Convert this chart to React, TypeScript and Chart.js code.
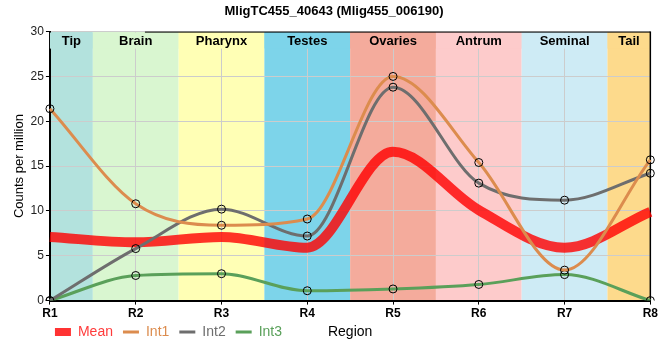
import React, { useEffect, useRef } from 'react';
import { Chart, registerables } from 'chart.js';

Chart.register(...registerables);

const chartTitle = 'MligTC455_40643 (Mlig455_006190)';
const categories = ['R1', 'R2', 'R3', 'R4', 'R5', 'R6', 'R7', 'R8'];
const regionNames = ['Tip', 'Brain', 'Pharynx', 'Testes', 'Ovaries', 'Antrum', 'Seminal', 'Tail'];
const regionColors = ['#b3e2dd', '#d9f6d0', '#ffffb5', '#7dd4ea', '#f4ab9c', '#fdcbcb', '#ceebf5', '#fdda8c'];
const meanValues = [7.1, 6.5, 7.1, 5.9, 16.6, 10.1, 5.9, 9.9];
const int1Values = [21.4, 10.8, 8.4, 9.1, 25.0, 15.4, 3.4, 15.7];
const int2Values = [0, 5.8, 10.2, 7.2, 23.8, 13.1, 11.2, 14.2];
const int3Values = [0, 2.8, 3.0, 1.1, 1.3, 1.8, 2.9, 0];
const seriesNames = ['Mean', 'Int1', 'Int2', 'Int3'];
const seriesColors = ['rgba(255,0,0,0.8)', '#dc8c4e', '#6e6e6e', '#5aa05a'];
const legendTextColors = ['#ff3b3b', '#dc8c4e', '#6e6e6e', '#5aa05a'];
const xAxisTitle = 'Region';
const yAxisTitle = 'Counts per million';

const FONT = "'Liberation Sans', Arial, sans-serif";
const LEGEND_LIFT = 8;
const LEGEND_SHIFT_LEFT = 5;

const bandsPlugin = {
  id: 'bands',
  afterLayout(chart: any) {
    const lg = chart.legend;
    if (lg) {
      lg.top -= LEGEND_LIFT;
      lg.bottom -= LEGEND_LIFT;
      lg.left -= LEGEND_SHIFT_LEFT;
      lg.right -= LEGEND_SHIFT_LEFT;
    }
  },
  beforeDraw(chart: any) {
    const { ctx, chartArea, scales } = chart;
    const x = scales.x;
    const step = x.getPixelForValue(1) - x.getPixelForValue(0);
    ctx.save();
    regionNames.forEach((_, i) => {
      const c = x.getPixelForValue(i);
      const x0 = Math.max(chartArea.left, c - step / 2);
      const x1 = Math.min(chartArea.right, c + step / 2);
      ctx.fillStyle = regionColors[i];
      ctx.fillRect(x0, chartArea.top, x1 - x0, chartArea.bottom - chartArea.top);
    });
    ctx.restore();
  },
  beforeDatasetsDraw(chart: any) {
    const { ctx, chartArea, scales } = chart;
    const x = scales.x;
    const step = x.getPixelForValue(1) - x.getPixelForValue(0);
    ctx.save();
    ctx.font = `bold 13px ${FONT}`;
    ctx.textAlign = 'center';
    ctx.textBaseline = 'middle';
    regionNames.forEach((name, i) => {
      const c = x.getPixelForValue(i);
      const x0 = Math.max(chartArea.left, c - step / 2);
      const x1 = Math.min(chartArea.right, c + step / 2);
      ctx.fillStyle = regionColors[i];
      ctx.fillRect(x0, chartArea.top + 1, x1 - x0, 16);
      ctx.fillStyle = '#000';
      ctx.fillText(name, (x0 + x1) / 2, chartArea.top + 10);
    });
    ctx.strokeStyle = '#000';
    ctx.lineWidth = 1.5;
    ctx.beginPath();
    ctx.moveTo(chartArea.right, chartArea.top);
    ctx.lineTo(chartArea.right, chartArea.bottom);
    ctx.stroke();
    ctx.lineWidth = 1;
    ctx.beginPath();
    ctx.moveTo(chartArea.left + 95, chartArea.top + 0.5);
    ctx.lineTo(chartArea.right, chartArea.top + 0.5);
    ctx.stroke();
    ctx.restore();
  },
  afterDraw(chart: any) {
    const { ctx, chartArea } = chart;
    const hb = chart.legend && chart.legend.legendHitBoxes && chart.legend.legendHitBoxes[0];
    if (!hb) return;
    ctx.save();
    ctx.font = `14px ${FONT}`;
    ctx.fillStyle = '#000';
    ctx.textAlign = 'center';
    ctx.textBaseline = 'middle';
    ctx.fillText(xAxisTitle, (chartArea.left + chartArea.right) / 2, hb.top + hb.height / 2);
    ctx.restore();
  },
};

export default function App() {
  const ref = useRef<HTMLCanvasElement>(null);
  useEffect(() => {
    document.body.style.margin = '0';
    Chart.defaults.font.family = FONT;
    const valueSets = [meanValues, int1Values, int2Values, int3Values];
    const datasets = seriesNames.map((name, i) => ({
      label: name,
      data: valueSets[i],
      borderColor: seriesColors[i],
      backgroundColor: seriesColors[i],
      borderWidth: i === 0 ? 10 : 3,
      cubicInterpolationMode: 'monotone' as const,
      pointRadius: i === 0 ? 0 : 4,
      pointBorderColor: '#000',
      pointBorderWidth: 1,
      pointBackgroundColor: 'rgba(0,0,0,0)',
      fill: false,
      order: i === 0 ? 1 : 0,
    }));
    const chart = new Chart(ref.current as HTMLCanvasElement, {
      type: 'line',
      data: { labels: categories, datasets },
      plugins: [bandsPlugin],
      options: {
        animation: false,
        responsive: false,
        events: [],
        layout: { padding: { top: 0, left: 8, right: 0, bottom: 3 } },
        plugins: {
          tooltip: { enabled: false },
          title: {
            display: true,
            text: chartTitle,
            color: '#000',
            font: { size: 13, weight: 'bold', family: FONT },
            padding: { top: 4, bottom: 12 },
          },
          legend: {
            position: 'bottom',
            align: 'start',
            fullSize: false,
            labels: {
              usePointStyle: true,
              pointStyleWidth: 16,
              boxHeight: 8,
              padding: 10,
              font: { size: 14, family: FONT },
              sort: (a: any, b: any) => a.datasetIndex - b.datasetIndex,
              generateLabels: (c: any) =>
                c.data.datasets.map((ds: any, i: number) => ({
                  text: ds.label,
                  datasetIndex: i,
                  fillStyle: seriesColors[i],
                  strokeStyle: seriesColors[i],
                  lineWidth: i === 0 ? 0 : 3,
                  pointStyle: i === 0 ? 'rect' : 'line',
                  fontColor: legendTextColors[i],
                  hidden: false,
                })),
            },
          },
        },
        scales: {
          x: {
            type: 'category',
            offset: false,
            grid: { color: '#cccccc', tickColor: '#000', tickLength: 4 },
            border: { color: '#000', width: 2 },
            ticks: { color: '#000', font: { size: 12, weight: 'bold', family: FONT }, padding: 2, maxRotation: 0, autoSkip: false },
          },
          y: {
            min: 0,
            max: 30,
            grid: { color: '#cccccc', tickColor: '#000', tickLength: 4 },
            border: { color: '#000', width: 2 },
            ticks: { stepSize: 5, color: '#222', font: { size: 12, family: FONT }, padding: 2 },
            title: { display: true, text: yAxisTitle, color: '#000', font: { size: 13, family: FONT }, padding: { top: 4, bottom: 1 } },
          },
        },
      } as any,
    });
    return () => chart.destroy();
  }, []);
  return (
    <div style={{ width: 660, height: 360 }}>
      <canvas ref={ref} width={660} height={360} />
    </div>
  );
}
